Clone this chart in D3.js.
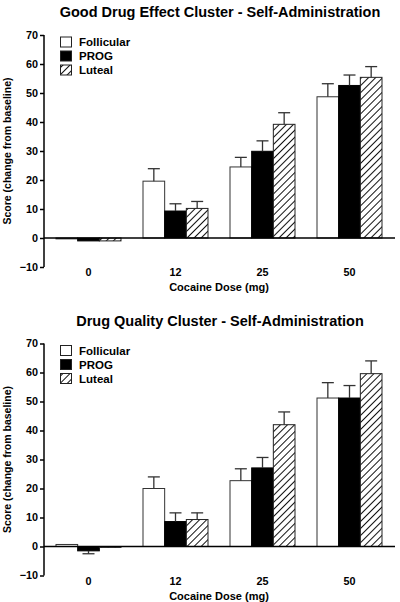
<!DOCTYPE html>
<html><head><meta charset="utf-8">
<script src="https://cdn.jsdelivr.net/npm/d3@7"></script>
<style>body{margin:0;background:#fff}svg{display:block}text{font-family:"Liberation Sans",Arial,sans-serif;font-weight:bold}</style>
</head><body>
<script>
const doses = ["0", "12", "25", "50"];
const seriesNames = ["Follicular", "PROG", "Luteal"];
const yTicks = [-10, 0, 10, 20, 30, 40, 50, 60, 70];

const title1 = "Good Drug Effect Cluster - Self-Administration";
const good_fol = [-0.3, 19.6, 24.5, 48.7];
const good_fol_err = [0, 4.3, 3.3, 4.5];
const good_prog = [-1.0, 9.3, 29.9, 52.6];
const good_prog_err = [0, 2.5, 3.6, 3.6];
const good_lut = [-1.0, 10.2, 39.2, 55.4];
const good_lut_err = [0, 2.4, 4.0, 3.7];

const title2 = "Drug Quality Cluster - Self-Administration";
const qual_fol = [0.7, 20.0, 22.7, 51.2];
const qual_fol_err = [0, 4.0, 4.1, 5.3];
const qual_prog = [-1.5, 8.6, 27.1, 51.2];
const qual_prog_err = [1.0, 3.0, 3.6, 4.3];
const qual_lut = [-0.3, 9.3, 42.0, 59.6];
const qual_lut_err = [0, 2.3, 4.4, 4.4];

const W = 400, H = 602;
const svg = d3.select("body").append("svg").attr("width", W).attr("height", H);
const defs = svg.append("defs");
const pat = defs.append("pattern").attr("id", "hatch").attr("patternUnits", "userSpaceOnUse")
  .attr("width", 5).attr("height", 5).attr("patternTransform", "rotate(45)");
pat.append("rect").attr("width", 5).attr("height", 5).attr("fill", "#fff");
pat.append("line").attr("x1", 0).attr("y1", 0).attr("x2", 0).attr("y2", 5)
  .attr("stroke", "#111").attr("stroke-width", 2);

const fills = ["#fff", "#000", "url(#hatch)"];
const strokes = ["#333", "#000", "#222"];

const x0 = d3.scaleBand().domain(doses).range([45, 393]).padding(0);
const x1 = d3.scaleBand().domain(seriesNames).range([-32.5, 32.5]).padding(0);

function panel(top, title, vals, errs) {
  const g = svg.append("g").attr("transform", `translate(0,${top})`);
  const y = d3.scaleLinear().domain([-10, 70]).range([267, 35]);

  g.append("text").attr("x", 220).attr("y", 17).attr("text-anchor", "middle")
    .attr("font-size", 14.5).text(title);

  // y axis
  const ax = g.append("g").attr("transform", "translate(44,0)")
    .call(d3.axisLeft(y).tickValues(yTicks).tickSize(4).tickPadding(2));
  ax.select(".domain").attr("stroke", "#000").attr("stroke-width", 1.5).attr("d", `M0,${y(-10)}V${y(70)}`);
  ax.selectAll(".tick line").attr("stroke", "#000").attr("stroke-width", 1.5);
  ax.selectAll(".tick text").attr("font-size", 10.8).attr("fill", "#000")
    .style("font-family", '"Liberation Sans",Arial,sans-serif').style("font-weight", "bold");

  g.append("text").attr("transform", `translate(11,${(y(-10)+y(70))/2}) rotate(-90)`)
    .attr("text-anchor", "middle").attr("font-size", 10.5).text("Score (change from baseline)");

  // bars
  seriesNames.forEach((s, si) => {
    doses.forEach((d, di) => {
      const v = vals[si][di], e = errs[si][di];
      const bx = x0(d) + x0.bandwidth() / 2 + x1(s);
      const bw = x1.bandwidth();
      g.append("rect").attr("x", bx).attr("y", Math.min(y(v), y(0)))
        .attr("width", bw).attr("height", Math.abs(y(v) - y(0)))
        .attr("fill", fills[si]).attr("stroke", strokes[si]).attr("stroke-width", 1);
      if (e > 0) {
        const cx = bx + bw / 2;
        const ye = v >= 0 ? y(v + e) : y(v - e);
        g.append("line").attr("x1", cx).attr("x2", cx).attr("y1", y(v)).attr("y2", ye)
          .attr("stroke", "#333").attr("stroke-width", 1.3);
        g.append("line").attr("x1", cx - 6).attr("x2", cx + 6).attr("y1", ye).attr("y2", ye)
          .attr("stroke", "#333").attr("stroke-width", 1.3);
      }
    });
  });

  // zero line
  g.append("line").attr("x1", 44).attr("x2", 395).attr("y1", y(0)).attr("y2", y(0))
    .attr("stroke", "#000").attr("stroke-width", 1.5);

  // x labels
  doses.forEach(d => {
    g.append("text").attr("x", x0(d) + x0.bandwidth() / 2).attr("y", 276)
      .attr("text-anchor", "middle").attr("font-size", 10.8).text(d);
  });
  g.append("text").attr("x", 219).attr("y", 291).attr("text-anchor", "middle")
    .attr("font-size", 11).text("Cocaine Dose (mg)");

  // legend
  seriesNames.forEach((s, si) => {
    const ly = 42 + si * 14;
    g.append("rect").attr("x", 60.5).attr("y", ly - 5).attr("width", 11).attr("height", 10)
      .attr("fill", fills[si]).attr("stroke", "#222").attr("stroke-width", 1);
    g.append("text").attr("x", 79).attr("y", ly + 4).attr("font-size", 11.5).text(s);
  });
}

panel(0, title1, [good_fol, good_prog, good_lut], [good_fol_err, good_prog_err, good_lut_err]);
panel(308.5, title2, [qual_fol, qual_prog, qual_lut], [qual_fol_err, qual_prog_err, qual_lut_err]);
</script>
</body></html>
